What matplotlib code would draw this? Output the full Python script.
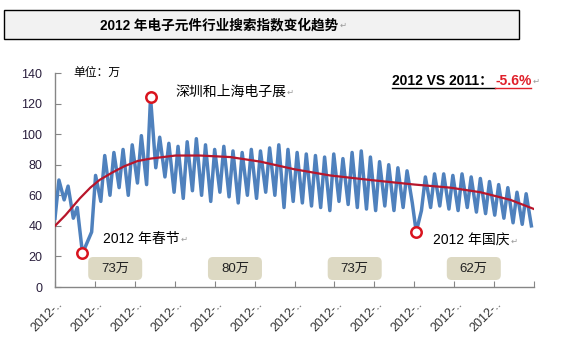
import numpy as np
import matplotlib
matplotlib.use('Agg')
import matplotlib.pyplot as plt
from matplotlib.patches import Rectangle, FancyBboxPatch
from matplotlib.lines import Line2D
from matplotlib.transforms import ScaledTranslation

plt.rcParams['font.family'] = ['Liberation Sans', 'Noto Sans CJK SC', 'DejaVu Sans']

# weekly search index (万), 2012: weekend lows (Sundays) and mid-week highs
week_low = [45, 57, 45, 22, 36, 56, 60, 65, 60, 68, 67, 78, 72, 62, 58, 63, 60, 56, 62, 59,
            55, 60, 58, 62, 60, 52, 56, 55, 53, 52, 50, 56, 54, 52, 51, 50, 53, 50, 52, 55,
            50, 52, 53, 51, 50, 52, 49, 48, 47, 45, 42, 41, 40]
week_high = [70, 66, 52, 28, 73, 86, 88, 90, 93, 99, 124, 98, 94, 92, 95, 97, 93, 90, 92, 89,
             88, 90, 89, 91, 93, 90, 88, 87, 86, 85, 87, 84, 88, 89, 85, 82, 80, 78, 76, 36,
             72, 74, 74, 73, 74, 72, 71, 69, 67, 65, 62, 61]

# red trend line
trend_day = [0, 8, 19, 27, 34, 44, 53, 63, 73, 92, 111, 134, 157, 183, 210, 241, 275, 302, 325, 348, 366]
trend_val = [40, 47, 58, 65, 70, 75, 79, 82.4, 84, 86, 86, 85, 82, 77, 73, 70, 67, 65, 62, 57, 51]

box_labels = ['73万', '80万', '73万', '62万']
box_day = [46, 137.5, 229, 320]
tick_labels = ['2012-..'] * 12

W, H = 562, 351


def px(x, y):
    return x / W, 1 - y / H


def add_return_mark(fig, t):
    fig.canvas.draw()
    bb = t.get_window_extent()
    fig.text((bb.x1 + 1) / W, (bb.y0 + bb.y1) / 2 / H, '\u21b5', fontsize=6, color='#9a9a9a',
             family='DejaVu Sans', va='center', ha='left')


days, vals = [], []
for k in range(len(week_low)):
    days.append(7 * k)
    vals.append(week_low[k])
    if k < len(week_high):
        days.append(7 * k + 3)
        vals.append(week_high[k])
days = np.array(days)
vals = np.array(vals)

fig = plt.figure(figsize=(5.62, 3.51), dpi=100)
fig.patch.set_facecolor('white')

# title box
fig.patches.append(Rectangle(px(4, 39), 515 / W, 28.5 / H, transform=fig.transFigure,
                             facecolor='#f2f2f2', edgecolor='black', linewidth=1.0))
t = fig.text(*px(100, 25), '2012 年电子元件行业搜索指数变化趋势', fontsize=9.8,
             fontweight='bold', ha='left', va='center')
add_return_mark(fig, t)

ax = fig.add_axes([55 / W, 1 - 287 / H, (534 - 55) / W, (287 - 73) / H])
ax.plot(days, vals, color='#4f81bd', linewidth=2.5, solid_joinstyle='round', zorder=3)
ax.plot(trend_day, trend_val, color='#b8162b', linewidth=1.6, solid_joinstyle='round', zorder=4)

# circled events
early = days < 100
late = days > 200
i_cny = np.argmin(np.where(early, vals, 999))
i_expo = np.argmax(vals)
i_nd = np.argmin(np.where(late, vals, 999))
for i in (i_cny, i_expo, i_nd):
    ax.plot(days[i], vals[i], 'o', ms=7.5, mfc='white', mec='#d9141e', mew=1.8, zorder=5)

ax.set_xlim(0, 366)
ax.set_ylim(0, 140)
ax.set_yticks(range(0, 141, 20))
ax.set_xticks(np.arange(13) * 30.5)
ax.set_xticklabels(tick_labels + [''])

for s in ('top', 'right'):
    ax.spines[s].set_visible(False)
for s in ('left', 'bottom'):
    ax.spines[s].set_color('#868686')
    ax.spines[s].set_linewidth(1.0)

ax.tick_params(axis='y', direction='in', length=4, color='#868686', labelsize=9,
               labelcolor='#2a1f3d', pad=9)
ax.tick_params(axis='x', direction='in', length=4, color='#868686', labelsize=9,
               labelcolor='#333333', pad=11)
for lab in ax.get_xticklabels():
    lab.set_rotation(45)
    lab.set_ha('right')
    lab.set_va('center')
    lab.set_rotation_mode('anchor')
    lab.set_transform(lab.get_transform() + ScaledTranslation(6 / 100, 0, fig.dpi_scale_trans))

# value boxes
for lbl, d in zip(box_labels, box_day):
    tr = fig.dpi_scale_trans + ScaledTranslation(d, 0, ax.transData)
    ax.add_patch(FancyBboxPatch((-0.27, 0.07), 0.54, 0.23, boxstyle='round,pad=0,rounding_size=0.05',
                                transform=tr, facecolor='#ddd9c3', edgecolor='none', zorder=2))
    ax.text(0, 0.185, lbl, transform=tr, ha='center', va='center', fontsize=9.5, color='#222222', zorder=3)

# annotations
fig.text(*px(73, 73), '单位：万', fontsize=8.5, ha='left', va='center')
t = fig.text(*px(175, 92), '深圳和上海电子展', fontsize=10, ha='left', va='center')
add_return_mark(fig, t)
t = fig.text(*px(103, 239), '2012 年春节', fontsize=10, ha='left', va='center')
add_return_mark(fig, t)
t = fig.text(*px(433, 241), '2012 年国庆', fontsize=10, ha='left', va='center')
add_return_mark(fig, t)

t1 = fig.text(*px(392, 81), '2012 VS 2011：', fontsize=10, fontweight='bold', ha='left', va='center')
fig.canvas.draw()
bb = t1.get_window_extent()
t2 = fig.text((bb.x1 + 2) / W, 1 - 81 / H, '-5.6%', fontsize=10, fontweight='bold',
              color='#e0202a', ha='left', va='center')
fig.canvas.draw()
bb2 = t2.get_window_extent()
uy = 1 - 88 / H
fig.add_artist(Line2D([bb.x0 / W, bb.x1 / W + 2 / W], [uy, uy], transform=fig.transFigure,
                      color='black', linewidth=1.0))
fig.add_artist(Line2D([bb.x1 / W + 2 / W, bb2.x1 / W], [uy, uy], transform=fig.transFigure,
                      color='#e0202a', linewidth=1.0))
add_return_mark(fig, t2)

fig.savefig('out.png', dpi=100, facecolor='white')
